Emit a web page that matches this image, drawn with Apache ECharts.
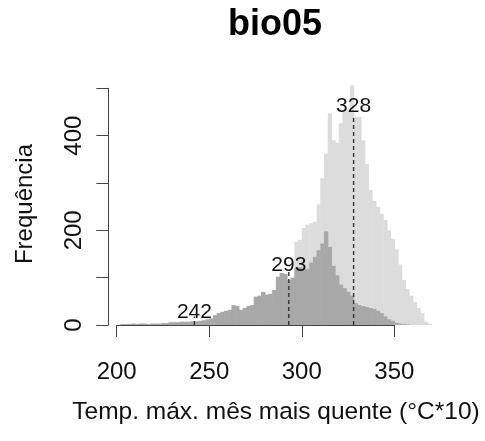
<!DOCTYPE html>
<html>
<head>
<meta charset="utf-8">
<script src="https://cdn.jsdelivr.net/npm/echarts@6/dist/echarts.min.js"></script>
<style>
html,body{margin:0;padding:0;background:#fff;}
#chart{width:485px;height:441px;}
</style>
</head>
<body>
<div id="chart"></div>
<script>
/**
 * bio05 - two overlaid histograms with reference lines
 */

const binWidth = 2;

const bins = [
    202, 204, 206, 208, 210, 212, 214, 216, 218, 220, 222, 224, 226, 228, 230, 232, 234, 236, 238, 240,
    242, 244, 246, 248, 250, 252, 254, 256, 258, 260, 262, 264, 266, 268, 270, 272, 274, 276, 278, 280,
    282, 284, 286, 288, 290, 292, 294, 296, 298, 300, 302, 304, 306, 308, 310, 312, 314, 316, 318, 320,
    322, 324, 326, 328, 330, 332, 334, 336, 338, 340, 342, 344, 346, 348, 350, 352, 354, 356, 358, 360,
    362, 364, 366, 368
];

// front histogram (darker)
const darkCounts = [
    2, 2, 2, 3, 2, 3, 3, 2, 3, 3, 3, 4, 4,
    6, 6, 6, 7, 7, 7, 8, 8, 9, 10, 12, 14,
    21, 25, 28, 30, 32, 42, 40, 32, 36, 40, 42, 60, 62, 70, 64, 66, 74, 102, 110, 108,
    95, 100, 120, 122, 116, 118, 132, 144, 158, 172, 198, 165, 125, 105, 85, 78, 70, 62, 46, 42,
    40, 38, 36, 34, 30, 25, 18, 12, 9, 5, 3, 2, 1, 0, 0, 0, 0, 0, 0
];

// back histogram (lighter)
const lightCounts = [
    0, 0, 0, 0, 0, 0, 0, 0, 0, 0, 0, 0, 0, 0, 0, 0, 0, 0, 0, 0,
    0, 0, 0, 0, 0, 0, 0, 0, 0, 0, 0, 0, 0, 0, 0, 0, 0, 0, 0,
    30, 40, 55, 70, 85, 95,
    90, 100, 175, 180, 205, 212, 215, 218, 255, 310,
    362, 447, 390, 385, 426, 450, 455, 506, 440, 440,
    390, 340, 285, 262, 250, 235, 222, 200, 182, 160,
    128, 95, 76, 62, 48, 36, 25, 7, 3
];

// reference values with label height and line top
const refValues = [242, 293, 328];
const refLabelY = [26, 127, 462];
const refLineTop = [18, 112, 443];

const xTicks = [200, 250, 300, 350];
const yTicks = [0, 100, 200, 300, 400, 500];
const yLabelled = [0, 200, 400];

const FONT = '"Liberation Sans", Arial, sans-serif';

function histData(counts) {
    return bins.map((b, i) => [b, b + binWidth, counts[i]]);
}

function barRenderer(color) {
    return function (params, api) {
        const p0 = api.coord([api.value(0), api.value(2)]);
        const p1 = api.coord([api.value(1), 0]);
        return {
            type: 'rect',
            shape: {
                x: p0[0],
                y: p0[1],
                width: p1[0] - p0[0] + 0.6,
                height: p1[1] - p0[1]
            },
            style: { fill: color }
        };
    };
}

function renderRef(params, api) {
    const base = api.coord([api.value(0), 0]);
    const top = api.coord([api.value(0), api.value(2)]);
    const lab = api.coord([api.value(0), api.value(1)]);
    return {
        type: 'group',
        children: [
            {
                type: 'line',
                shape: { x1: base[0], y1: base[1], x2: top[0], y2: top[1] },
                style: { stroke: '#333', lineWidth: 1.4, lineDash: [4, 3] }
            },
            {
                type: 'text',
                style: {
                    x: lab[0],
                    y: lab[1],
                    text: String(api.value(0)),
                    font: '21px ' + FONT,
                    fill: '#111',
                    align: 'center',
                    verticalAlign: 'middle'
                }
            }
        ]
    };
}

const chart = echarts.init(document.getElementById('chart'));

chart.setOption({
    backgroundColor: '#ffffff',
    animation: false,
    grid: {
        left: 116.7,
        right: 90.7,
        top: 88.3,
        bottom: 116
    },
    xAxis: {
        type: 'value',
        min: xTicks[0],
        max: xTicks[xTicks.length - 1],
        interval: 50,
        offset: 9,
        axisLine: { show: true, lineStyle: { color: '#444', width: 1 } },
        axisTick: { show: true, length: 12, lineStyle: { color: '#444' } },
        axisLabel: {
            margin: 26,
            fontSize: 24,
            fontFamily: FONT,
            color: '#111'
        },
        splitLine: { show: false }
    },
    yAxis: {
        type: 'value',
        min: yTicks[0],
        max: yTicks[yTicks.length - 1],
        interval: 100,
        offset: 8.4,
        axisLine: { show: true, lineStyle: { color: '#444', width: 1 } },
        axisTick: { show: true, length: 12, lineStyle: { color: '#444' } },
        axisLabel: {
            rotate: 90,
            margin: 22,
            fontSize: 24,
            fontFamily: FONT,
            color: '#111',
            formatter: v => (yLabelled.indexOf(v) >= 0 ? String(v) : '')
        },
        splitLine: { show: false }
    },
    graphic: [
        {
            type: 'text',
            style: {
                text: 'bio05',
                font: 'bold 36px ' + FONT,
                fill: '#000',
                align: 'center',
                verticalAlign: 'middle'
            },
            x: 275,
            y: 25
        },
        {
            type: 'text',
            style: {
                text: 'Temp. máx. mês mais quente (°C*10)',
                font: '24.5px ' + FONT,
                fill: '#111',
                align: 'center',
                verticalAlign: 'middle'
            },
            x: 276,
            y: 412
        },
        {
            type: 'text',
            style: {
                text: 'Frequência',
                font: '24px ' + FONT,
                fill: '#111',
                align: 'center',
                verticalAlign: 'middle'
            },
            x: 25,
            y: 204,
            rotation: Math.PI / 2
        }
    ],
    series: [
        {
            name: 'light',
            type: 'custom',
            clip: false,
            renderItem: barRenderer('#dcdcdc'),
            encode: { x: [0, 1], y: 2 },
            data: histData(lightCounts)
        },
        {
            name: 'dark',
            type: 'custom',
            clip: false,
            renderItem: barRenderer('#a8a8a8'),
            encode: { x: [0, 1], y: 2 },
            data: histData(darkCounts)
        },
        {
            name: 'refs',
            type: 'custom',
            clip: false,
            renderItem: renderRef,
            encode: { x: 0, y: [1, 2] },
            data: refValues.map((v, i) => [v, refLabelY[i], refLineTop[i]])
        }
    ]
});
</script>
</body>
</html>
